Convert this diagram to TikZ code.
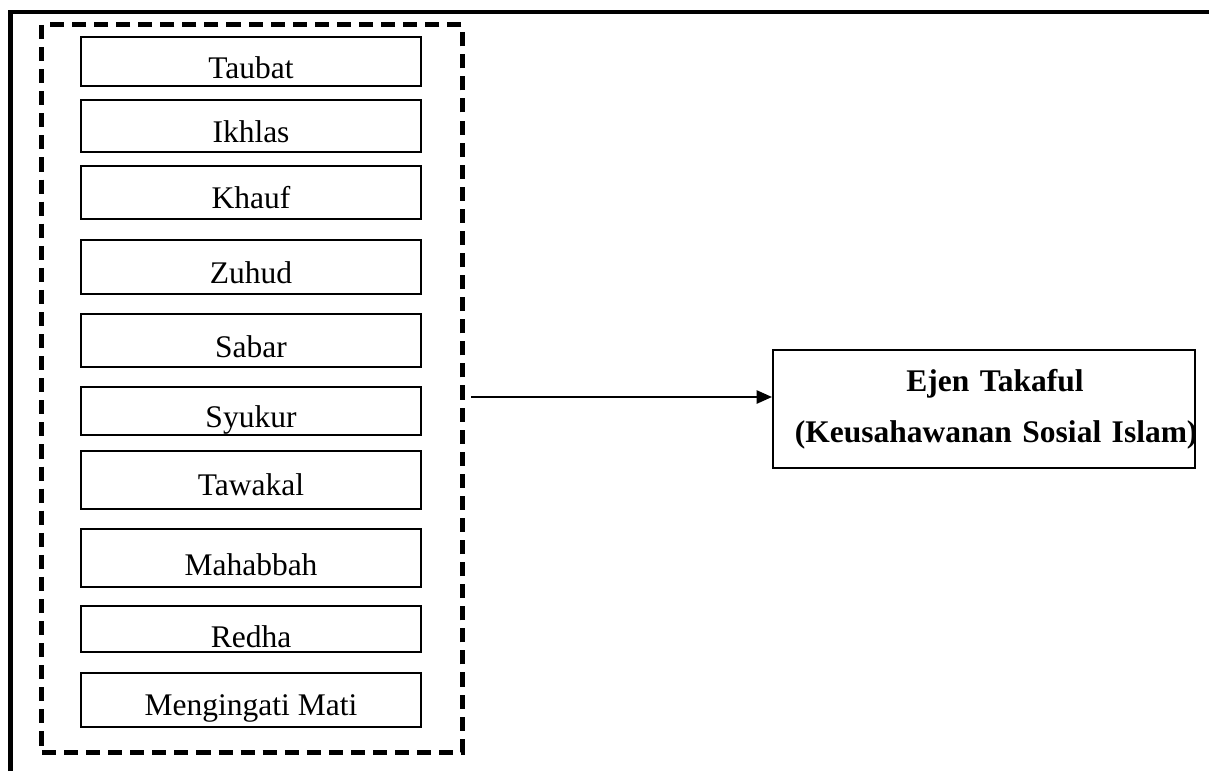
\documentclass[tikz,border=0pt]{standalone}
\usepackage{fontspec}
\setmainfont{Liberation Serif}
\usetikzlibrary{arrows.meta}

\begin{document}
\begin{tikzpicture}[
    x=0.025cm, y=-0.025cm,
    itembox/.style={rectangle, draw, line width=1.4pt, inner sep=0pt, minimum width=8.5cm, anchor=base, font=\fontsize{22.4}{27.7}\selectfont},
    groupbox/.style={rectangle, draw, line width=3.5pt, dash pattern=on 10pt off 5.7pt, minimum width=10.5cm, minimum height=18.175cm},
    agentbox/.style={rectangle, draw, line width=1.4pt, inner xsep=0pt, text width=10.55cm, minimum height=2.95cm, align=center, font=\fontsize{22.4}{27.7}\selectfont\bfseries},
    arrow/.style={-{Triangle[length=11pt, width=9.5pt]}, line width=1.4pt}
]
    \useasboundingbox (0,0) rectangle (1209,771);

    % Outer frame
    \draw[line width=3.5pt] (10.5,771) -- (10.5,12) -- (1209,12);

    % Dashed group
    \node[groupbox] (group) at (252,388.5) {};

    % Items
    \foreach \top/\base/\bot/\txt [count=\i] in {37/78/86/Taubat, 100/142/152/Ikhlas, 166/208/219/Khauf,
        240/283/294/Zuhud, 314/357/367/Sabar, 387/427/435/Syukur, 451/495/509/Tawakal,
        529/575/587/Mahabbah, 606/647/652/Redha, 673/715/727/Mengingati Mati} {
        \pgfmathsetlengthmacro\hgt{(\base-\top)*0.025cm}
        \pgfmathsetlengthmacro\dpt{(\bot-\base)*0.025cm}
        \node[itembox, text height=\hgt, text depth=\dpt] (item\i) at (251,\base) {\txt};
    }

    % Agent
    \node[agentbox] (agent) at (984,409) {\hspace*{0.55cm}Ejen Takaful\\[0.3cm]\hspace*{0.55cm}\mbox{(Keusahawanan Sosial Islam)}};

    % Arrow
    \coordinate (from) at (471,397);
    \draw[arrow] (from) -- (from -| agent.west);
\end{tikzpicture}
\end{document}
